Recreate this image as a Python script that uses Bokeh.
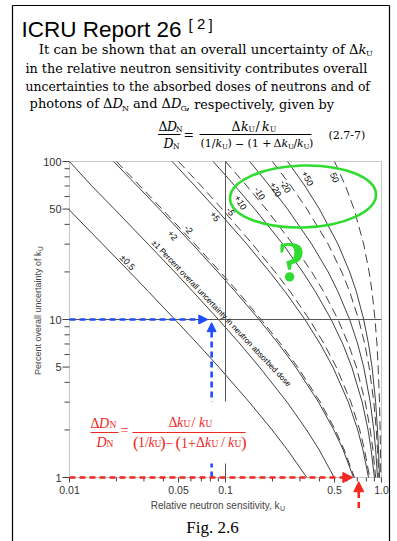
from bokeh.plotting import figure
from bokeh.models import Label, Arrow, NormalHead, BoxAnnotation
from bokeh.core.properties import value
from bokeh.embed import file_html
from bokeh.resources import INLINE

# ---------------- data ----------------
uncertainty_ku = [100, 70, 50, 30, 20, 15, 10, 7, 5, 3, 2, 1.5, 1]   # percent overall uncertainty of kU
uncertainty_pm0_5 = [50, 30, 20, 15, 10, 7, 5, 3, 2, 1.5, 1]

k_pm0_5 = [0.00985, 0.0163, 0.0243, 0.0321, 0.0474, 0.0664, 0.0905, 0.142, 0.199, 0.249, 0.332]
k_pm1   = [0.0100, 0.0139, 0.0194, 0.0319, 0.0472, 0.0619, 0.0901, 0.124, 0.165, 0.248, 0.331, 0.398, 0.4975]
k_p2    = [0.0192, 0.0272, 0.0377, 0.0613, 0.0893, 0.1156, 0.164, 0.219, 0.282, 0.395, 0.495, 0.567, 0.662]
k_m2    = [0.0200, 0.0283, 0.0392, 0.0637, 0.0926, 0.1198, 0.169, 0.226, 0.290, 0.405, 0.505, 0.576, 0.671]
k_p5    = [0.0455, 0.0637, 0.087, 0.137, 0.192, 0.241, 0.323, 0.405, 0.488, 0.613, 0.704, 0.760, 0.826]
k_m5    = [0.050, 0.0699, 0.0952, 0.149, 0.208, 0.260, 0.345, 0.429, 0.513, 0.637, 0.725, 0.778, 0.840]
k_p10   = [0.0833, 0.115, 0.154, 0.233, 0.3125, 0.377, 0.476, 0.565, 0.645, 0.752, 0.820, 0.858, 0.901]
k_m10   = [0.100, 0.137, 0.182, 0.270, 0.357, 0.426, 0.526, 0.613, 0.690, 0.787, 0.847, 0.881, 0.917]
k_p20   = [0.143, 0.192, 0.250, 0.357, 0.455, 0.526, 0.625, 0.704, 0.769, 0.847, 0.893, 0.917, 0.943]
k_m20   = [0.200, 0.263, 0.333, 0.455, 0.556, 0.625, 0.714, 0.781, 0.833, 0.893, 0.926, 0.943, 0.962]
k_p50   = [0.250, 0.323, 0.400, 0.526, 0.625, 0.690, 0.769, 0.826, 0.870, 0.917, 0.943, 0.957, 0.971]
k_m50   = [0.500, 0.588, 0.667, 0.769, 0.833, 0.870, 0.909, 0.935, 0.952, 0.971, 0.980, 0.985, 0.990]

solid_curves = [k_pm1, k_p2, k_p5, k_p10, k_p20, k_p50]
dashed_curves = [k_m2, k_m5, k_m10, k_m20, k_m50]

x_ticks = [0.01, 0.05, 0.1, 0.5, 1.0]
x_tick_labels = ["0.01", "0.05", "0.1", "0.5", "1.0"]
x_minor_ticks = [0.02, 0.03, 0.04, 0.06, 0.07, 0.08, 0.09, 0.2, 0.3, 0.4, 0.6, 0.7, 0.8, 0.9]
y_ticks = [1, 5, 10, 50, 100]
y_tick_labels = ["1", "5", "10", "50", "100"]
y_minor_ticks = [2, 3, 4, 6, 7, 8, 9, 20, 30, 40, 60, 70, 80, 90]

k_min, k_max = 0.01, 1.0
u_min, u_max = 1, 100
grid_k, grid_u = 0.1, 10
blue_k, blue_u = 0.0815, 10        # marked point (kU ~0.08 at 10 %)
red_k_h, red_k_v = 0.655, 0.715    # red arrows at 1 %

# ---------------- layout / styling ----------------
W, H = 397, 541
CX, CY = 69, 161          # page position of the chart's top-left corner (kU=0.01, 100 %)
PX_DEC_X, PX_DEC_Y = 156, 158   # pixels per decade
SANS = "Liberation Sans"
SERIF = "DejaVu Serif"
TIMES = "Liberation Serif"
INK = "#2b2b2b"
AX = "#444444"
BLUE = "#1f4cff"
RED = "#f0281e"
GREEN = "#2fdc2f"


def P(px, py):
    """page pixel -> data coordinates"""
    return (10 ** ((px - CX) / PX_DEC_X - 2), 10 ** (2 - (py - CY) / PX_DEC_Y))


x0r, y1r = P(0, 0)
x1r, y0r = P(W, H)
p = figure(width=W, height=H, x_axis_type="log", y_axis_type="log",
           x_range=(x0r, x1r), y_range=(y0r, y1r), title=None,
           x_axis_location=None, y_axis_location=None,
           output_backend="svg", toolbar_location=None,
           min_border=0, min_border_left=0, min_border_right=0, min_border_top=0, min_border_bottom=0,
           background_fill_color="white", border_fill_color="white", outline_line_color=None)
p.grid.visible = False


def put(px, py, text, size, font=SANS, color="black", align="left", baseline="alphabetic",
        angle=0, style="normal"):
    # py is the text baseline unless baseline="middle"
    if baseline == "alphabetic":
        py = py - 0.35 * size
        baseline = "middle"
    x, y = P(px, py)
    p.add_layout(Label(x=x, y=y, text=text, text_font=font, text_font_size=f"{size}px",
                       text_color=color, text_align=align, text_baseline=baseline,
                       angle=angle, angle_units="deg", text_font_style=style))


def seg(px0, py0, px1, py1, color="black", width=1.0):
    x0, y0 = P(px0, py0)
    x1, y1 = P(px1, py1)
    p.add_layout(Arrow(x_start=x0, y_start=y0, x_end=x1, y_end=y1, end=None,
                       line_color=color, line_width=width))


# ---- curves ----
p.line(k_pm0_5, uncertainty_pm0_5, line_color=INK, line_width=0.9)
for ks in solid_curves:
    p.line(ks, uncertainty_ku, line_color=INK, line_width=0.9)
for ks in dashed_curves:
    p.line(ks, uncertainty_ku, line_color=INK, line_width=0.9, line_dash="9 5")

# ---- reference lines at kU = 0.1 and 10 % ----
p.segment(x0=[grid_k], y0=[u_min], x1=[grid_k], y1=[u_max], line_color="#555555", line_width=1)
p.segment(x0=[k_min], y0=[grid_u], x1=[k_max], y1=[grid_u], line_color="#555555", line_width=1)

# ---- axes drawn by hand (ticks from the tick arrays) ----
yt_len = 10 ** (-7 / PX_DEC_X)
yt_min = 10 ** (-5 / PX_DEC_X)
xt_len = 10 ** (-5 / PX_DEC_Y)
xt_min = 10 ** (-4 / PX_DEC_Y)
p.segment(x0=[k_min * yt_len] * len(y_ticks), y0=y_ticks, x1=[k_min] * len(y_ticks), y1=y_ticks,
          line_color=AX, line_width=1)
p.segment(x0=[k_min * yt_min] * len(y_minor_ticks), y0=y_minor_ticks, x1=[k_min] * len(y_minor_ticks),
          y1=y_minor_ticks, line_color=AX, line_width=1)
p.segment(x0=x_ticks, y0=[u_min * xt_len] * len(x_ticks), x1=x_ticks, y1=[u_min] * len(x_ticks),
          line_color=AX, line_width=1)
p.segment(x0=x_minor_ticks, y0=[u_min * xt_min] * len(x_minor_ticks), x1=x_minor_ticks,
          y1=[u_min] * len(x_minor_ticks), line_color=AX, line_width=1)
p.text(x=[k_min] * len(y_ticks), y=y_ticks, text=y_tick_labels, x_offset=-8,
       text_align="right", text_baseline="middle", text_font=value(SANS),
       text_font_size=value("11px"), text_color="#333333")
p.text(x=x_ticks, y=[u_min] * len(x_ticks), text=x_tick_labels, y_offset=8,
       text_align="center", text_baseline="top", text_font=value(SANS),
       text_font_size=value("10.5px"), text_color="#333333")
p.add_layout(BoxAnnotation(left=k_min, right=k_max, bottom=u_min, top=u_max, fill_alpha=0,
                           line_color=AX, line_width=1))

# ---- green ellipse & question mark ----
ex, ey = P(302.5, 196)
p.ellipse(x=[ex], y=[ey], width=146, height=62, width_units="screen", height_units="screen",
          angle=0.03, fill_alpha=0, line_color=GREEN, line_width=2.6)
put(291, 261, "?", 58, font=TIMES, color=GREEN, align="center", baseline="middle", style="bold")

# ---- blue arrows ----
p.add_layout(Arrow(x_start=k_min, y_start=blue_u, x_end=blue_k * 0.945, y_end=blue_u,
                   line_color=BLUE, line_width=2.6, line_dash="6 4",
                   end=NormalHead(size=9, fill_color=BLUE, line_color=BLUE)))
p.add_layout(Arrow(x_start=blue_k, y_start=u_min, x_end=blue_k, y_end=blue_u * 0.955,
                   line_color=BLUE, line_width=2.6, line_dash="6 4",
                   end=NormalHead(size=9, fill_color=BLUE, line_color=BLUE)))

# ---- white box of the pasted red formula ----
bl, bt = P(86, 401)
br, bb = P(247, 463)
p.add_layout(BoxAnnotation(left=bl, right=br, top=bt, bottom=bb, fill_color="white",
                           fill_alpha=1, line_alpha=0))

# ---- red arrows ----
p.add_layout(Arrow(x_start=k_min, y_start=u_min, x_end=red_k_h, y_end=u_min,
                   line_color=RED, line_width=2.6, line_dash="6 4",
                   end=NormalHead(size=10, fill_color=RED, line_color=RED)))
p.add_layout(Arrow(x_start=red_k_v, y_start=0.64, x_end=red_k_v, y_end=0.94,
                   line_color=RED, line_width=2.6, line_dash="6 4",
                   end=NormalHead(size=10, fill_color=RED, line_color=RED)))

# ---- curve labels ----
put(127, 262, "±0.5", 9, align="center", baseline="middle", angle=-47)
put(221, 313, "±1 Percent overall uncertainty in neutron absorbed dose", 8,
    align="center", baseline="middle", angle=-46.5)
put(172, 235, "+2", 9, align="center", baseline="middle", angle=-50)
put(188, 229, "-2", 9, align="center", baseline="middle", angle=-50)
put(214.5, 216, "+5", 9, align="center", baseline="middle", angle=-55)
put(230, 211, "-5", 9, align="center", baseline="middle", angle=-55)
put(240, 202, "+10", 9, align="center", baseline="middle", angle=-60)
put(259, 193, "-10", 9, align="center", baseline="middle", angle=-60)
put(275, 189, "+20", 9, align="center", baseline="middle", angle=-62)
put(285, 186, "-20", 9, align="center", baseline="middle", angle=-62)
put(307, 178, "+50", 9, align="center", baseline="middle", angle=-63)
put(334, 177, "50", 9, align="center", baseline="middle", angle=-66)

# ---- axis titles ----
put(279, 505, "Relative neutron sensitivity, k", 10, color=AX, align="right", baseline="middle")
put(279.5, 507.5, "U", 7, color=AX, baseline="middle")
put(37, 251, "Percent overall uncertainty of k", 9, color=AX, align="right",
    baseline="middle", angle=90)
put(39.5, 250.5, "U", 6.5, color=AX, baseline="middle", angle=90)

# ---- red formula inside the chart ----
RS = 14
put(90, 428, "Δ", RS, TIMES, RED)
put(98.5, 428, "D", RS, TIMES, RED, style="italic")
put(109, 428, "N", 9.5, TIMES, RED)
seg(90, 432, 118, 432, RED, 1.2)
put(96, 447, "D", RS, TIMES, RED, style="italic")
put(106, 447, "N", 9.5, TIMES, RED)
put(120, 435, "=", RS, TIMES, RED)
put(168, 427, "Δ", RS, TIMES, RED)
put(176.5, 427, "k", RS, TIMES, RED, style="italic")
put(183, 427, "U", 9.5, TIMES, RED)
put(191, 427, "/", RS, TIMES, RED)
put(198.5, 427, "k", RS, TIMES, RED, style="italic")
put(205, 427, "U", 9.5, TIMES, RED)
seg(132, 432, 245, 432, RED, 1.2)
put(132.5, 448, "(", 17, TIMES, RED)
put(137.5, 447, "1/", RS, TIMES, RED)
put(148, 447, "k", RS, TIMES, RED, style="italic")
put(154, 447, "U", 9.5, TIMES, RED)
put(159.5, 448, ")", 17, TIMES, RED)
put(165, 447, "−", RS, TIMES, RED)
put(175, 448, "(", 17, TIMES, RED)
put(180.5, 447, "1+", RS, TIMES, RED)
put(195.5, 447, "Δ", RS, TIMES, RED)
put(204.5, 447, "k", RS, TIMES, RED, style="italic")
put(211, 447, "U", 9.5, TIMES, RED)
put(220.5, 447, "/", RS, TIMES, RED)
put(227.5, 447, "k", RS, TIMES, RED, style="italic")
put(234, 447, "U", 9.5, TIMES, RED)
put(240.5, 448, ")", 17, TIMES, RED)

# ---------------- header ----------------
put(21, 36.5, "ICRU Report 26", 22.5)
put(188, 29, "[", 15)
put(196.5, 29, "2", 15)
put(208, 29, "]", 15)

put(358, 54, "It can be shown that an overall uncertainty of Δ", 13.2, SERIF, align="right")
put(358, 54, "k", 13.2, SERIF, style="italic")
put(365.5, 56, "U", 8, SERIF)
put(25, 72, "in the relative neutron sensitivity contributes overall", 12.75, SERIF)
put(25, 90, "uncertainties to the absorbed doses of neutrons and of", 12.4, SERIF)
put(112, 108, "photons of Δ", 13, SERIF, align="right")
put(112, 108, "D", 13, SERIF, style="italic")
put(121.5, 110.5, "N", 8, SERIF)
put(170.5, 108, "and Δ", 13, SERIF, align="right")
put(170.5, 108, "D", 13, SERIF, style="italic")
put(180, 110.5, "G", 8, SERIF)
put(185.5, 108, ", respectively, given by", 12.8, SERIF)

ES = 12.5
put(158, 130, "Δ", ES, SERIF)
put(166.5, 130, "D", ES, SERIF, style="italic")
put(175.5, 132, "N", 7.5, SERIF)
seg(157.5, 134, 180, 134, "black", 1)
put(163, 147, "D", ES, SERIF, style="italic")
put(172.5, 149, "N", 7.5, SERIF)
put(183, 138, "=", ES, SERIF)
put(231, 130, "Δ", ES, SERIF)
put(240.5, 130, "k", ES, SERIF, style="italic")
put(248, 132, "U", 7.5, SERIF)
put(255, 130, "/", ES, SERIF)
put(261.5, 130, "k", ES, SERIF, style="italic")
put(269.5, 132, "U", 7.5, SERIF)
seg(199, 134, 311, 134, "black", 1)
DS = 11
put(200, 147, "(1/", DS, SERIF)
put(215, 147, "k", DS, SERIF, style="italic")
put(221.5, 149, "U", 7, SERIF)
put(227, 147, ")", DS, SERIF)
put(234.5, 147, "−", DS, SERIF)
put(247, 147, "(1 +", DS, SERIF)
put(273, 147, "Δ", DS, SERIF)
put(281, 147, "k", DS, SERIF, style="italic")
put(287.5, 149, "U", 7, SERIF)
put(293, 147, "/", DS, SERIF)
put(296.5, 147, "k", DS, SERIF, style="italic")
put(303, 149, "U", 7, SERIF)
put(308.5, 147, ")", DS, SERIF)
put(328, 138.5, "(2.7-7)", 11, SERIF)

put(212, 527, "Fig. 2.6", 17, TIMES, align="center", baseline="middle")

# ---- slide frame ----
seg(12, 5, 389, 5, "black", 1.2)
seg(12, 5, 12, 541, "black", 1.2)
seg(389, 5, 389, 541, "black", 1.2)

open("out.html", "w").write(file_html(p, INLINE))
